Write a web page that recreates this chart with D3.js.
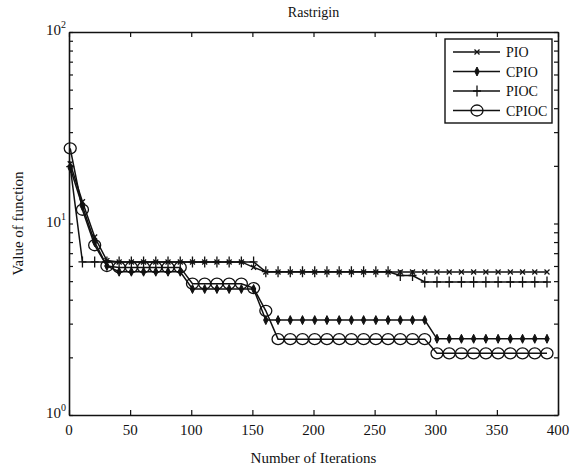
<!DOCTYPE html>
<html>
<head>
<meta charset="utf-8">
<script src="https://cdn.jsdelivr.net/npm/d3@7"></script>
<style>
  body { margin: 0; background: #fff; }
  text { font-family: "Liberation Serif", "DejaVu Serif", serif; fill: #111; }
</style>
</head>
<body>
<script>
// Iterations where markers sit (every 10th iteration)
var iters = [1, 11, 21, 31, 41, 51, 61, 71, 81, 91, 101, 111, 121, 131, 141, 151, 161, 171, 181, 191,
             201, 211, 221, 231, 241, 251, 261, 271, 281, 291, 301, 311, 321, 331, 341, 351, 361, 371, 381, 391];

// Series values
var pio   = [20.5, 13, 8.5, 6.4, 6.3, 6.3, 6.3, 6.3, 6.3, 6.3, 6.3, 6.3, 6.3, 6.3, 6.3, 5.9, 5.58, 5.58, 5.58, 5.58,
             5.58, 5.58, 5.58, 5.58, 5.58, 5.58, 5.58, 5.58, 5.58, 5.58, 5.58, 5.58, 5.58, 5.58, 5.58, 5.58, 5.58, 5.58, 5.58, 5.58];
var cpio  = [19.5, 12.3, 8.0, 6.0, 5.6, 5.6, 5.6, 5.6, 5.6, 5.6, 4.55, 4.55, 4.55, 4.55, 4.55, 4.55, 3.13, 3.13, 3.13, 3.13,
             3.13, 3.13, 3.13, 3.13, 3.13, 3.13, 3.13, 3.13, 3.13, 3.13, 2.5, 2.5, 2.5, 2.5, 2.5, 2.5, 2.5, 2.5, 2.5, 2.5];
var pioc  = [19.8, 6.3, 6.3, 6.3, 6.3, 6.3, 6.3, 6.3, 6.3, 6.3, 6.3, 6.3, 6.3, 6.3, 6.3, 6.3, 5.6, 5.6, 5.6, 5.6,
             5.6, 5.6, 5.6, 5.6, 5.6, 5.6, 5.6, 5.35, 5.35, 4.95, 4.95, 4.95, 4.95, 4.95, 4.95, 4.95, 4.95, 4.95, 4.95, 4.95];
var cpioc = [24.7, 11.8, 7.7, 6.0, 5.9, 5.9, 5.9, 5.9, 5.9, 5.9, 4.85, 4.85, 4.85, 4.85, 4.85, 4.6, 3.5, 2.49, 2.49, 2.49,
             2.49, 2.49, 2.49, 2.49, 2.49, 2.49, 2.49, 2.49, 2.49, 2.49, 2.1, 2.1, 2.1, 2.1, 2.1, 2.1, 2.1, 2.1, 2.1, 2.1];

var seriesNames = ["PIO", "CPIO", "PIOC", "CPIOC"];
var seriesVals = [pio, cpio, pioc, cpioc];
var xTicks = [0, 50, 100, 150, 200, 250, 300, 350, 400];
var yTicks = [1, 10, 100];

var W = 586, H = 473;
var margin = {top: 32, right: 28, bottom: 58, left: 69};
var width = W - margin.left - margin.right;
var height = H - margin.top - margin.bottom;

var svg = d3.select("body").append("svg")
    .attr("width", W)
    .attr("height", H);

var g = svg.append("g")
    .attr("transform", "translate(" + margin.left + "," + margin.top + ")");

var x = d3.scaleLinear().domain([0, 400]).range([0, width]);
var y = d3.scaleLog().domain([1, 100]).range([height, 0]);

// minor ticks for log axis
var minor = [];
[1, 10].forEach(function(b) {
    for (var k = 2; k <= 9; k++) minor.push(b * k);
});

// axes, MATLAB style: ticks pointing inwards on all four sides
g.append("g")
    .attr("transform", "translate(0," + height + ")")
    .call(d3.axisBottom(x).tickValues(xTicks).tickSizeInner(-5).tickSizeOuter(0).tickFormat(""));
g.append("g")
    .call(d3.axisTop(x).tickValues(xTicks).tickSizeInner(-5).tickSizeOuter(0).tickFormat(""));
g.append("g")
    .call(d3.axisLeft(y).tickValues(yTicks.concat(minor)).tickSizeInner(-4).tickSizeOuter(0).tickFormat(""));
g.append("g")
    .attr("transform", "translate(" + width + ",0)")
    .call(d3.axisRight(y).tickValues(yTicks.concat(minor)).tickSizeInner(-4).tickSizeOuter(0).tickFormat(""));

g.selectAll(".domain").attr("stroke", "#111").attr("stroke-width", 1.6);
g.selectAll(".tick line").attr("stroke", "#111").attr("stroke-width", 1.2);

// x tick labels
g.append("g").selectAll("text")
    .data(xTicks)
    .enter()
    .append("text")
        .attr("x", function(d) { return x(d); })
        .attr("y", height + 20)
        .attr("text-anchor", "middle")
        .style("font-size", "15px")
        .text(function(d) { return d; });

// y tick labels 10^n
var yl = g.append("g").selectAll("text")
    .data(yTicks)
    .enter()
    .append("text")
        .attr("x", -3)
        .attr("y", function(d) { return y(d) + 3; })
        .attr("text-anchor", "end")
        .style("font-size", "15px");
yl.append("tspan").text("10");
yl.append("tspan")
    .attr("dy", -7)
    .style("font-size", "10px")
    .text(function(d) { return Math.round(Math.log10(d)); });

// title and axis labels
svg.append("text")
    .attr("x", margin.left + width / 2)
    .attr("y", 17)
    .attr("text-anchor", "middle")
    .style("font-size", "14px")
    .text("Rastrigin");

svg.append("text")
    .attr("x", margin.left + width / 2)
    .attr("y", 463)
    .attr("text-anchor", "middle")
    .style("font-size", "15px")
    .text("Number of Iterations");

svg.append("text")
    .attr("transform", "translate(23," + (margin.top + height / 2) + ") rotate(-90)")
    .attr("text-anchor", "middle")
    .style("font-size", "15px")
    .text("Value of function");

// markers
function drawMarker(sel, name) {
    if (name === "PIO") {
        sel.append("path").attr("d", "M-2.5,-2.5L2.5,2.5M-2.5,2.5L2.5,-2.5")
            .attr("stroke", "#111").attr("stroke-width", 1.3).attr("fill", "none");
    } else if (name === "CPIO") {
        sel.append("path").attr("d", "M0,-4.5L2.2,0L0,4.5L-2.2,0Z")
            .attr("stroke", "#111").attr("stroke-width", 1).attr("fill", "#111");
    } else if (name === "PIOC") {
        sel.append("path").attr("d", "M0,-5.5L0,5.5M-4,0L4,0")
            .attr("stroke", "#111").attr("stroke-width", 1.3).attr("fill", "none");
    } else {
        sel.append("ellipse").attr("rx", 6).attr("ry", 5.5)
            .attr("stroke", "#111").attr("stroke-width", 1.3).attr("fill", "none");
    }
}

var line = d3.line()
    .x(function(d) { return x(d[0]); })
    .y(function(d) { return y(d[1]); });

seriesNames.forEach(function(name, i) {
    var pts = iters.map(function(it, j) { return [it, seriesVals[i][j]]; });
    g.append("path")
        .datum(pts)
        .attr("d", line)
        .attr("fill", "none")
        .attr("stroke", "#111")
        .attr("stroke-width", 1.5);
    g.append("g").selectAll("g")
        .data(pts)
        .enter()
        .append("g")
            .attr("transform", function(d) { return "translate(" + x(d[0]) + "," + y(d[1]) + ")"; })
            .each(function() { drawMarker(d3.select(this), name); });
});

// legend
var lg = svg.append("g").attr("transform", "translate(445,39)");
lg.append("rect")
    .attr("width", 107)
    .attr("height", 84)
    .attr("fill", "#fff")
    .attr("stroke", "#111")
    .attr("stroke-width", 1.4);
seriesNames.forEach(function(name, i) {
    var row = lg.append("g").attr("transform", "translate(0," + (13 + i * 19.5) + ")");
    row.append("line")
        .attr("x1", 8).attr("x2", 55)
        .attr("stroke", "#111").attr("stroke-width", 1.5);
    drawMarker(row.append("g").attr("transform", "translate(32,0)"), name);
    row.append("text")
        .attr("x", 61)
        .attr("y", 5)
        .style("font-size", "14px")
        .text(name);
});
</script>
</body>
</html>
